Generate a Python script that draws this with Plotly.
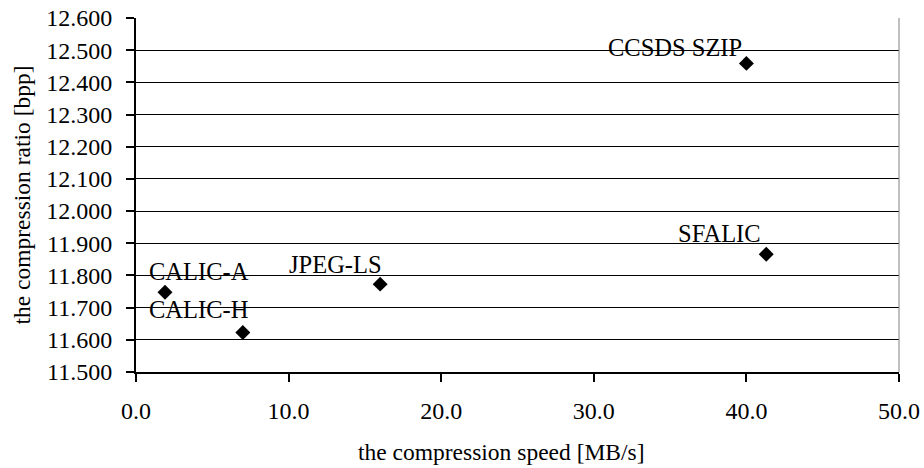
import plotly.graph_objects as go

# ---- data ----
names = ["CALIC-A", "CALIC-H", "JPEG-LS", "CCSDS SZIP", "SFALIC"]
speed = [1.9, 7.0, 16.0, 40.0, 41.3]          # MB/s
ratio = [11.748, 11.623, 11.773, 12.459, 11.866]  # bpp

x_ticks = [0, 10, 20, 30, 40, 50]
y_ticks = [11.5, 11.6, 11.7, 11.8, 11.9, 12.0, 12.1, 12.2, 12.3, 12.4, 12.5, 12.6]

x_title = "the compression speed [MB/s]"
y_title = "the compression ratio [bpp]"

# label pixel offsets (styling only): (dx right, dy up)
label_offsets = [(34, 21), (-44, 23), (-45, 20), (-71, 16), (-47, 21)]

FONT = "Liberation Serif, 'Times New Roman', serif"

fig = go.Figure()
fig.add_trace(go.Scatter(
    x=speed, y=ratio, mode="markers",
    marker=dict(symbol="diamond", size=11.5, color="black", line=dict(width=0)),
    showlegend=False, hoverinfo="skip",
))

for n, xv, yv, (dx, dy) in zip(names, speed, ratio, label_offsets):
    fig.add_annotation(
        x=xv, y=yv, xref="x", yref="y", text=n, showarrow=False,
        xanchor="center", yanchor="middle", xshift=dx, yshift=dy,
        font=dict(family=FONT, size=24.5, color="black"),
    )

# x-axis title (slightly left of centre, as in the reference)
fig.add_annotation(
    x=0.5, y=0, xref="paper", yref="paper", text=x_title, showarrow=False,
    xanchor="center", yanchor="middle", xshift=-16, yshift=-80,
    font=dict(family=FONT, size=23.5, color="black"),
)

# right border
fig.add_shape(type="line", xref="paper", yref="paper", x0=1, x1=1, y0=0, y1=1,
              line=dict(color="#808080", width=1))

fig.update_layout(
    width=924, height=468,
    margin=dict(l=136, r=25, t=18, b=96),
    paper_bgcolor="white", plot_bgcolor="white",
    font=dict(family=FONT, color="black"),
    xaxis=dict(
        range=[0, 50], tickvals=x_ticks, tickformat=".1f",
        showgrid=False, zeroline=False, automargin=False,
        showline=True, linecolor="black", linewidth=2,
        ticks="outside", ticklen=8, tickwidth=2, tickcolor="black",
        tickfont=dict(family=FONT, size=24, color="black"),
        ticklabelstandoff=8,
    ),
    yaxis=dict(
        range=[11.5, 12.6], tickvals=y_ticks, tickformat=".3f",
        showgrid=True, gridcolor="black", gridwidth=1, zeroline=False, automargin=False,
        showline=True, linecolor="black", linewidth=2,
        ticks="outside", ticklen=8, tickwidth=2, tickcolor="black",
        tickfont=dict(family=FONT, size=24, color="black"),
        ticklabelstandoff=9,
        title=dict(text=y_title, standoff=9,
                   font=dict(family=FONT, size=23.5, color="black")),
    ),
)

fig.write_html("out.html")
